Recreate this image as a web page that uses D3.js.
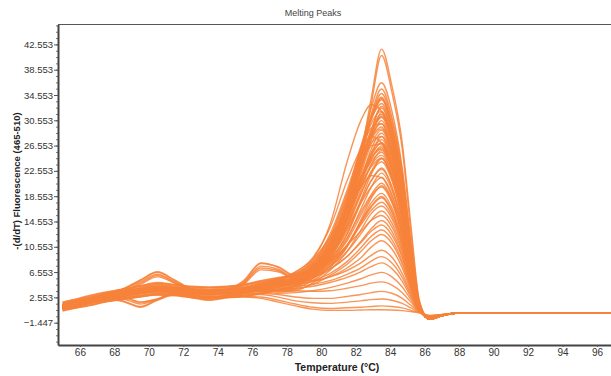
<!DOCTYPE html>
<html>
<head>
<meta charset="utf-8">
<script src="https://cdn.jsdelivr.net/npm/d3@7"></script>
<style>
  body { margin: 0; background: #fff; }
  svg { display: block; font-family: "Liberation Sans", Arial, sans-serif; }
</style>
</head>
<body>
<script>
// temperature grid (°C) shared by every well
const temps = [65.0, 65.5, 66.5, 67.5, 68.5, 69.5, 70.5, 71.5, 72.5, 73.5, 74.5, 75.5, 76.5, 77.5, 78.5,
  79.5, 80.5, 81.5, 82.3, 82.9, 83.5, 84.1, 84.7, 85.2, 85.7, 86.3, 87.0, 87.8, 97.0];

// -(d/dT) fluorescence per well
const wells = [
  [1.4,1.7,2.3,2.8,3.3,3.8,4.2,4.0,3.7,3.6,3.7,4.0,4.6,5.1,5.6, 6.5,9.5,16,25,34,41.8,36,27,14,2.0,-0.9,-0.35,0.05,0.05],
  [1.2,1.5,2.1,2.7,3.2,3.6,4.0,3.8,3.6,3.5,3.6,3.9,4.4,4.9,5.4, 6.2,9.0,15,24,33,40.8,35,26,13,1.8,-0.9,-0.35,0.05,0.05],
  [1.0,1.3,1.9,2.5,3.0,3.4,3.8,3.7,3.5,3.4,3.5,3.7,4.1,4.6,5.2, 7.0,10.5,17,26,32.5,36.5,32,23,11.5,1.5,-0.9,-0.35,0.05,0.05],
  [1.3,1.6,2.2,2.8,3.3,3.7,4.1,3.9,3.6,3.5,3.6,3.8,4.3,4.8,5.4, 6.8,10,16.5,25,31.5,35.5,31,22.5,11,1.4,-0.9,-0.35,0.05,0.05],
  [0.9,1.2,1.8,2.4,2.9,3.3,3.7,3.6,3.4,3.3,3.4,3.6,4.0,4.5,5.1, 6.6,9.8,16,24.5,31,34.8,30.5,22,10.5,1.3,-0.9,-0.35,0.05,0.05],
  [1.1,1.4,2.0,2.6,3.1,3.5,3.9,3.8,3.5,3.4,3.5,3.7,4.2,4.7,5.3, 7.2,11,18,26,31,34,29.5,21,10,1.3,-0.9,-0.35,0.05,0.05],
  [1.5,1.8,2.4,3.0,3.5,4.0,4.5,4.2,3.9,3.7,3.8,4.1,4.7,5.2,5.8, 7.5,11.5,18.5,26.5,30.8,33.2,29,20.5,9.8,1.2,-0.9,-0.35,0.05,0.05],
  [0.8,1.1,1.7,2.3,2.8,3.2,3.6,3.5,3.3,3.2,3.3,3.5,3.9,4.4,5.0, 6.4,9.2,15,23,29,32.5,28.5,20,9.5,1.2,-0.9,-0.35,0.05,0.05],
  [1.2,1.5,2.1,2.7,3.2,3.6,4.0,3.9,3.6,3.5,3.6,3.8,4.3,4.8,5.4, 7.0,10.5,17,24.5,29,31.5,27.5,19.5,9.2,1.1,-0.9,-0.35,0.05,0.05],
  [1.0,1.3,1.9,2.5,3.0,3.4,3.8,3.7,3.5,3.4,3.4,3.6,4.0,4.5,5.1, 6.6,9.6,15.5,22.5,27.5,30.5,26.5,19,9,1.1,-0.85,-0.35,0.05,0.05],
  [1.4,1.7,2.3,2.9,3.4,3.9,4.3,4.1,3.8,3.6,3.7,4.0,4.5,5.0,5.6, 7.8,12,19,25,28,29.5,25.5,18,8.6,1.0,-0.85,-0.35,0.05,0.05],
  [0.9,1.2,1.8,2.4,2.9,3.3,3.7,3.6,3.4,3.3,3.4,3.6,4.0,4.5,5.0, 6.2,9.0,14.5,21,26,28.5,25,17.5,8.3,1.0,-0.85,-0.35,0.05,0.05],
  [1.2,1.5,2.2,3.0,3.8,5.2,6.5,5.2,3.8,3.4,3.7,5.0,7.9,7.3,5.8, 7.0,10,15.5,21.5,25.5,27.5,24,17,8,1.0,-0.85,-0.35,0.05,0.05],
  [1.1,1.4,2.0,2.6,3.1,3.5,3.9,3.8,3.5,3.4,3.5,3.7,4.1,4.6,5.2, 6.8,10,15.5,21,24.5,26.5,23,16.5,7.8,1.0,-0.85,-0.35,0.05,0.05],
  [1.3,1.6,2.2,2.8,3.3,3.7,4.1,3.9,3.6,3.5,3.6,3.9,4.4,4.9,5.5, 7.5,11,16.5,21.5,24,25.5,22,15.8,7.5,0.9,-0.85,-0.35,0.05,0.05],
  [1.1,1.4,2.0,2.7,3.4,4.6,5.8,4.8,3.6,3.3,3.6,4.6,6.9,6.6,5.5, 6.8,9.5,14,19,22.5,24.5,21.5,15,7.2,0.9,-0.85,-0.35,0.05,0.05],
  [0.9,1.2,1.8,2.4,2.9,3.3,3.6,3.5,3.3,3.2,3.3,3.5,3.9,4.3,4.9, 6.0,8.5,12.5,17.5,21,23,20,14,6.8,0.9,-0.8,-0.35,0.05,0.05],
  [1.2,1.5,2.1,2.7,3.2,3.6,4.0,3.8,3.6,3.5,3.6,3.8,4.3,4.8,5.4, 6.8,9.5,13.5,17.5,20,21.5,18.8,13,6.4,0.8,-0.8,-0.35,0.05,0.05],
  [1.0,1.3,1.9,2.5,3.0,3.4,3.8,3.7,3.4,3.3,3.4,3.6,4.0,4.5,5.1, 6.2,8.3,11.5,15.5,18.5,20,17.5,12.2,6,0.8,-0.8,-0.35,0.05,0.05],
  [0.7,1.0,1.6,2.2,2.7,3.1,3.4,3.3,3.1,3.0,3.1,3.3,3.7,4.1,4.7, 5.8,7.8,10.8,14.5,17,18.5,16.2,11.3,5.6,0.7,-0.8,-0.35,0.05,0.05],
  [0.8,1.1,1.8,2.4,2.0,1.1,2.2,3.0,2.6,2.2,2.6,3.2,3.6,3.4,3.6, 4.8,6.8,9.8,13.2,15.8,17,15,10.5,5.2,0.7,-0.75,-0.35,0.05,0.05],
  [1.2,1.5,2.1,2.7,3.2,3.6,4.0,3.8,3.6,3.5,3.6,3.8,4.2,4.6,5.2, 6.4,8.2,10.8,13,14.7,15.5,13.7,9.6,4.8,0.6,-0.75,-0.35,0.05,0.05],
  [1.0,1.3,1.9,2.5,3.0,3.4,3.8,3.7,3.4,3.3,3.4,3.6,4.0,4.4,4.9, 5.6,7.0,9.0,11.2,13,14,12.4,8.8,4.4,0.6,-0.7,-0.3,0.05,0.05],
  [0.9,1.2,1.9,2.5,2.6,1.8,2.3,3.3,3.0,2.5,2.9,3.5,3.9,3.6,3.8, 4.6,6.0,7.8,9.8,11.5,12.5,11.1,7.8,3.9,0.5,-0.7,-0.3,0.05,0.05],
  [1.1,1.4,2.0,2.6,3.1,3.5,3.9,3.8,3.5,3.4,3.5,3.7,4.0,4.3,4.6, 5.0,5.8,7.2,8.8,10.5,11.5,10.2,7.2,3.6,0.5,-0.7,-0.3,0.05,0.05],
  [1.3,1.6,2.3,3.1,3.9,5.0,6.2,5.0,3.7,3.3,3.6,4.8,7.5,7.0,5.4, 5.2,5.8,6.8,8.0,9.2,10,8.9,6.3,3.2,0.5,-0.65,-0.3,0.05,0.05],
  [0.8,1.1,1.7,2.3,2.8,3.2,3.5,3.4,3.2,3.1,3.2,3.4,3.7,4.0,4.3, 4.6,5.2,6.2,7.2,8.3,9,8.0,5.7,2.9,0.4,-0.6,-0.3,0.05,0.05],
  [1.0,1.3,1.9,2.5,3.0,3.3,3.6,3.5,3.3,3.2,3.2,3.4,3.6,3.8,4.0, 4.3,4.9,5.7,6.6,7.4,8,7.1,5.1,2.6,0.4,-0.6,-0.3,0.05,0.05],
  [0.7,1.0,1.7,2.3,1.9,1.0,2.1,2.9,2.5,2.1,2.5,3.1,3.5,3.2,3.3, 3.6,4.1,4.8,5.5,6.1,6.5,5.8,4.2,2.2,0.4,-0.55,-0.25,0.05,0.05],
  [1.1,1.4,2.0,2.6,3.1,3.4,3.7,3.6,3.4,3.2,3.2,3.3,3.5,3.6,3.6, 3.5,3.6,4.0,4.4,4.8,5,4.5,3.3,1.8,0.3,-0.5,-0.25,0.05,0.05],
  [0.9,1.2,1.8,2.4,2.8,3.1,3.4,3.3,3.1,3.0,3.0,3.1,3.2,3.0,2.6, 2.4,2.4,2.7,3.0,3.3,3.5,3.2,2.4,1.3,0.3,-0.45,-0.2,0.05,0.05],
  [0.8,1.1,1.7,2.2,2.6,2.9,3.2,3.1,2.9,2.8,2.8,2.9,3.0,2.6,2.0, 1.7,1.6,1.8,2.0,2.2,2.3,2.1,1.6,0.9,0.2,-0.4,-0.2,0.05,0.05],
  [0.6,0.9,1.5,2.0,2.4,2.7,3.0,2.9,2.7,2.6,2.6,2.7,2.6,2.1,1.5, 1.0,0.8,0.9,1.0,1.1,1.2,1.1,0.9,0.5,0.1,-0.35,-0.15,0.05,0.05],
  [0.7,1.0,1.6,2.1,2.5,2.8,3.1,3.0,2.8,2.7,2.6,2.6,2.4,1.8,1.2, 0.7,0.5,0.5,0.55,0.6,0.6,0.55,0.45,0.3,0.1,-0.3,-0.15,0.05,0.05],
  [1.3,1.6,2.2,2.8,3.3,3.7,4.1,4.0,3.7,3.6,3.7,4.0,4.6,5.3,6.2, 8.5,14,24,30.5,33,32,27,19,9,1.1,-0.85,-0.35,0.05,0.05],
  [1.5,1.8,2.4,3.0,3.5,3.9,4.3,4.1,3.8,3.7,3.8,4.1,4.7,5.5,6.5, 8.8,13.5,21,26,28,27,23,16,7.6,0.9,-0.8,-0.35,0.05,0.05],
  [1.2,1.5,2.1,2.7,3.2,3.6,4.0,3.9,3.6,3.5,3.6,3.9,4.5,5.4,6.6, 8.5,12,16.5,20,21.8,21.5,18.5,13,6.4,0.8,-0.8,-0.35,0.05,0.05],
  [1.0,1.3,1.9,2.5,3.0,3.4,3.8,3.7,3.5,3.4,3.5,3.7,4.2,4.7,5.3, 6.9,10.2,16.5,23.5,28.5,31,27.2,19.3,9.1,1.1,-0.85,-0.35,0.05,0.05],
  [1.3,1.6,2.2,2.8,3.3,3.7,4.1,3.9,3.6,3.5,3.6,3.8,4.3,4.8,5.4, 7.2,10.5,16,21.5,25,27,23.6,16.8,7.9,1.0,-0.85,-0.35,0.05,0.05],
  [1.1,1.4,2.0,2.6,3.1,3.5,3.9,3.8,3.6,3.5,3.6,3.8,4.3,4.8,5.4, 7.0,10.3,16.8,25,30.5,33.8,29.5,21,10,1.2,-0.9,-0.35,0.05,0.05],
  [1.3,1.6,2.3,3.1,3.9,5.3,6.6,5.3,3.9,3.5,3.8,5.2,8.0,7.4,6.0, 7.2,10,15,20,23.5,25,22,15.5,7.4,0.9,-0.85,-0.35,0.05,0.05],
  [0.9,1.2,1.9,2.5,2.6,1.8,2.3,3.3,3.0,2.5,2.9,3.5,3.9,3.7,4.2, 5.5,7.5,10.8,14.5,17.5,19,16.7,11.7,5.8,0.7,-0.8,-0.35,0.05,0.05],
  [1.6,1.9,2.5,3.1,3.6,4.1,4.6,4.3,4.0,3.9,4.0,4.3,4.9,5.4,6.0, 7.6,11,17.5,25,30,32,28,20,9.5,1.2,-0.9,-0.35,0.05,0.05],
  [0.4,0.7,1.2,1.8,2.2,2.6,2.9,2.8,2.5,2.4,2.5,2.7,3.1,3.7,4.4, 6.0,9.0,15,22,26.8,29,25.3,18,8.5,1.0,-0.85,-0.35,0.05,0.05],
  [1.8,2.1,2.8,3.4,3.9,4.4,4.9,4.6,4.3,4.2,4.3,4.6,5.2,5.7,6.2, 7.9,11.5,17.5,23.5,27,28,24.5,17.5,8.2,1.0,-0.85,-0.35,0.05,0.05],
  [0.5,0.8,1.3,1.9,2.3,2.7,3.0,2.9,2.6,2.5,2.6,2.8,3.2,3.8,4.5, 5.9,8.7,14,20.5,25,27,23.5,16.8,7.9,1.0,-0.85,-0.35,0.05,0.05],
  [1.7,2.0,2.6,3.2,3.8,4.3,4.8,4.5,4.2,4.1,4.2,4.5,5.1,5.6,6.1, 7.5,10.8,17.2,24,28.2,30,26,18.6,8.8,1.1,-0.85,-0.35,0.05,0.05],
  [0.8,1.1,1.7,2.3,2.8,3.2,3.6,3.5,3.2,3.1,3.2,3.4,3.8,4.3,4.9, 6.2,8.8,13.8,19.5,23.5,25.8,22.6,16,7.6,0.9,-0.85,-0.35,0.05,0.05],
  [1.2,1.5,2.1,2.7,3.2,3.6,4.0,3.9,3.7,3.6,3.7,3.9,4.4,4.9,5.5, 7.0,10.2,16.2,23,27.8,31.8,27.8,19.8,9.3,1.1,-0.9,-0.35,0.05,0.05],
  [1.0,1.3,1.9,2.5,3.0,3.4,3.8,3.7,3.5,3.4,3.5,3.7,4.1,4.6,5.2, 6.5,9.4,14.8,21,25.2,28,24.5,17.2,8.2,1.0,-0.85,-0.35,0.05,0.05],
  [1.3,1.6,2.2,2.8,3.3,3.7,4.1,4.0,3.7,3.6,3.7,3.9,4.4,4.9,5.5, 7.1,10.1,15.4,21.2,24.6,26,22.8,16.2,7.7,0.9,-0.85,-0.35,0.05,0.05],
  [0.9,1.2,1.8,2.4,2.9,3.3,3.7,3.6,3.3,3.2,3.3,3.5,3.9,4.4,5.0, 6.3,8.8,13.5,18.8,22.3,24,21,14.8,7.1,0.9,-0.85,-0.35,0.05,0.05],
  [1.8,2.1,2.7,3.3,3.8,4.3,4.7,4.5,4.2,4.1,4.2,4.5,5.0,5.5,6.0, 7.4,10.3,15.2,20.3,23.2,24.6,21.5,15.2,7.3,0.9,-0.85,-0.35,0.05,0.05],
  [0.8,1.1,1.7,2.3,2.8,3.2,3.6,3.5,3.3,3.2,3.3,3.5,3.9,4.3,4.8, 5.9,8.0,11.8,16.5,20,22.2,19.5,13.6,6.6,0.8,-0.8,-0.35,0.05,0.05],
  [1.1,1.4,2.0,2.6,3.1,3.5,3.9,3.8,3.6,3.5,3.6,3.8,4.2,4.7,5.3, 6.6,9.0,13,17.8,21,22.8,20,14,6.8,0.8,-0.8,-0.35,0.05,0.05],
  [1.3,1.6,2.2,2.8,3.3,3.7,4.1,3.9,3.6,3.5,3.6,3.8,4.3,4.8,5.3, 6.5,8.5,12,16,18.8,20.6,18,12.6,6.2,0.8,-0.8,-0.35,0.05,0.05],
  [0.5,0.8,1.3,1.9,2.3,2.7,3.0,2.9,2.7,2.6,2.7,2.9,3.3,3.8,4.4, 5.6,7.5,10.6,14.2,16.8,18.3,16,11.2,5.5,0.7,-0.8,-0.35,0.05,0.05],
  [1.2,1.5,2.1,2.7,3.2,3.6,4.0,3.9,3.6,3.5,3.6,3.8,4.2,4.7,5.2, 6.2,8.0,10.8,14,16.3,17.6,15.5,10.8,5.3,0.7,-0.75,-0.35,0.05,0.05],
  [1.0,1.3,1.9,2.5,3.0,3.4,3.8,3.7,3.5,3.4,3.5,3.7,4.1,4.5,5.0, 5.9,7.4,9.8,12.6,14.8,16.2,14.3,10,4.9,0.6,-0.75,-0.35,0.05,0.05],
  [1.4,1.7,2.3,2.9,3.4,3.8,4.2,4.0,3.7,3.6,3.7,3.9,4.3,4.7,5.1, 5.8,7.0,9.0,11.4,13.4,14.7,13,9.1,4.5,0.6,-0.7,-0.3,0.05,0.05],
  [0.8,1.1,1.7,2.3,2.8,3.2,3.6,3.5,3.3,3.2,3.3,3.5,3.9,4.2,4.6, 5.2,6.3,8.2,10.4,12.2,13.2,11.7,8.2,4.1,0.5,-0.7,-0.3,0.05,0.05],
  [1.1,1.4,2.0,2.6,3.1,3.5,3.9,3.8,3.5,3.4,3.5,3.7,4.1,4.5,5.0, 6.0,8.4,12.6,18,22,24.5,21.4,15,7.2,0.9,-0.85,-0.35,0.05,0.05],
  [1.2,1.5,2.1,2.7,3.2,3.6,4.0,3.9,3.6,3.5,3.6,3.9,4.4,4.9,5.5, 7.0,10.3,16.3,23.8,28.8,32.8,28.6,20.3,9.6,1.2,-0.9,-0.35,0.05,0.05],
  [0.9,1.2,1.8,2.4,2.9,3.3,3.7,3.6,3.4,3.3,3.4,3.6,4.0,4.5,5.1, 6.6,9.7,15.8,23.2,28.3,31.2,27.3,19.5,9.2,1.1,-0.9,-0.35,0.05,0.05],
  [1.3,1.6,2.2,2.8,3.3,3.7,4.1,4.0,3.8,3.7,3.8,4.0,4.5,5.0,5.6, 7.4,11.2,17.8,25.5,31,34.2,29.8,21.2,10,1.2,-0.9,-0.35,0.05,0.05],
  [1.0,1.3,1.9,2.5,3.0,3.4,3.8,3.7,3.4,3.3,3.4,3.6,4.1,4.6,5.2, 6.8,10,16,23,27.5,29.2,25.6,18.2,8.6,1.0,-0.85,-0.35,0.05,0.05],
  [1.2,1.5,2.2,2.9,3.6,4.8,6.0,4.9,3.7,3.4,3.7,4.8,7.2,6.8,5.6, 6.9,9.8,14.8,20.5,24.3,26.2,23,16.2,7.7,0.9,-0.85,-0.35,0.05,0.05],
  [0.8,1.1,1.8,2.4,2.3,1.5,2.2,3.1,2.8,2.3,2.7,3.3,3.7,3.6,4.0, 5.2,7.2,10.5,14.8,18.2,20.2,17.8,12.4,6.1,0.8,-0.8,-0.35,0.05,0.05],
  [1.4,1.7,2.3,2.9,3.4,3.8,4.2,4.1,3.8,3.7,3.8,4.1,4.7,5.4,6.3, 8.2,12.5,19.5,25.8,29.3,30,26,18.5,8.7,1.1,-0.85,-0.35,0.05,0.05],
  [1.1,1.4,2.0,2.6,3.1,3.5,3.9,3.8,3.6,3.5,3.6,3.9,4.5,5.3,6.3, 8.0,12,18.5,23.8,26.5,26.8,23.2,16.4,7.8,1.0,-0.85,-0.35,0.05,0.05],
];

const xTicks = d3.range(66, 97, 2);
const yTicks = [-1.447, 2.553, 6.553, 10.553, 14.553, 18.553, 22.553, 26.553, 30.553, 34.553, 38.553, 42.553];

const WIDTH = 611;
const HEIGHT = 376;
const LEFT = 58, RIGHT = 611, TOP = 24.5, BOTTOM = 345;

const svg = d3.select("body").append("svg")
  .attr("width", WIDTH)
  .attr("height", HEIGHT);

const x = d3.scaleLinear().domain([64.73, 96.81]).range([LEFT, RIGHT]);
const y = d3.scaleLinear().domain([-4.98, 45.7]).range([BOTTOM, TOP]);

svg.append("clipPath").attr("id", "plot")
  .append("rect")
  .attr("x", LEFT).attr("y", TOP)
  .attr("width", RIGHT - LEFT).attr("height", BOTTOM - TOP);

const line = d3.line()
  .x((d, i) => x(temps[i]))
  .y((d) => y(d))
  .curve(d3.curveMonotoneX);

svg.append("g")
  .attr("clip-path", "url(#plot)")
  .selectAll("path")
  .data(wells)
  .enter()
  .append("path")
  .attr("d", line)
  .attr("fill", "none")
  .attr("stroke", "#f7823a")
  .attr("stroke-opacity", 0.85)
  .attr("stroke-width", 1.4);

// frame top line
svg.append("line")
  .attr("x1", LEFT).attr("x2", RIGHT)
  .attr("y1", TOP).attr("y2", TOP)
  .attr("stroke", "#555").attr("stroke-width", 1);

// minor y ticks
svg.append("g")
  .attr("transform", `translate(${LEFT},0)`)
  .call(d3.axisLeft(y).tickValues(d3.range(-4.447, 45.6, 1)).tickSize(2).tickFormat(""))
  .call((g) => g.select(".domain").remove())
  .call((g) => g.selectAll("line").attr("stroke", "#777"));

const yAxis = svg.append("g")
  .attr("transform", `translate(${LEFT},0)`)
  .call(d3.axisLeft(y).tickValues(yTicks).tickSize(4).tickSizeOuter(0).tickPadding(1).tickFormat(d3.format(".3f")));
yAxis.select(".domain").attr("stroke", "#444").attr("stroke-width", 2);
yAxis.selectAll("line").attr("stroke", "#555");
yAxis.selectAll("text").attr("fill", "#333").style("font-size", "9.5px");

const xAxis = svg.append("g")
  .attr("transform", `translate(0,${BOTTOM})`)
  .call(d3.axisBottom(x).tickValues(xTicks).tickSize(2).tickSizeOuter(0).tickPadding(2).tickFormat(d3.format("d")));
xAxis.select(".domain").attr("stroke", "#444").attr("stroke-width", 2);
xAxis.selectAll("line").attr("stroke", "#555");
xAxis.selectAll("text").attr("fill", "#333").style("font-size", "10px");

svg.append("text")
  .attr("x", 313).attr("y", 16)
  .attr("text-anchor", "middle")
  .attr("fill", "#444")
  .style("font-size", "9px")
  .text("Melting Peaks");

svg.append("text")
  .attr("x", 337).attr("y", 371)
  .attr("text-anchor", "middle")
  .attr("fill", "#222")
  .style("font-size", "10.5px")
  .style("font-weight", "bold")
  .text("Temperature (°C)");

svg.append("text")
  .attr("transform", "translate(20,181) rotate(-90)")
  .attr("text-anchor", "middle")
  .attr("fill", "#222")
  .style("font-size", "9.5px")
  .style("font-weight", "bold")
  .text("-(d/dT) Fluorescence (465-510)");
</script>
</body>
</html>
